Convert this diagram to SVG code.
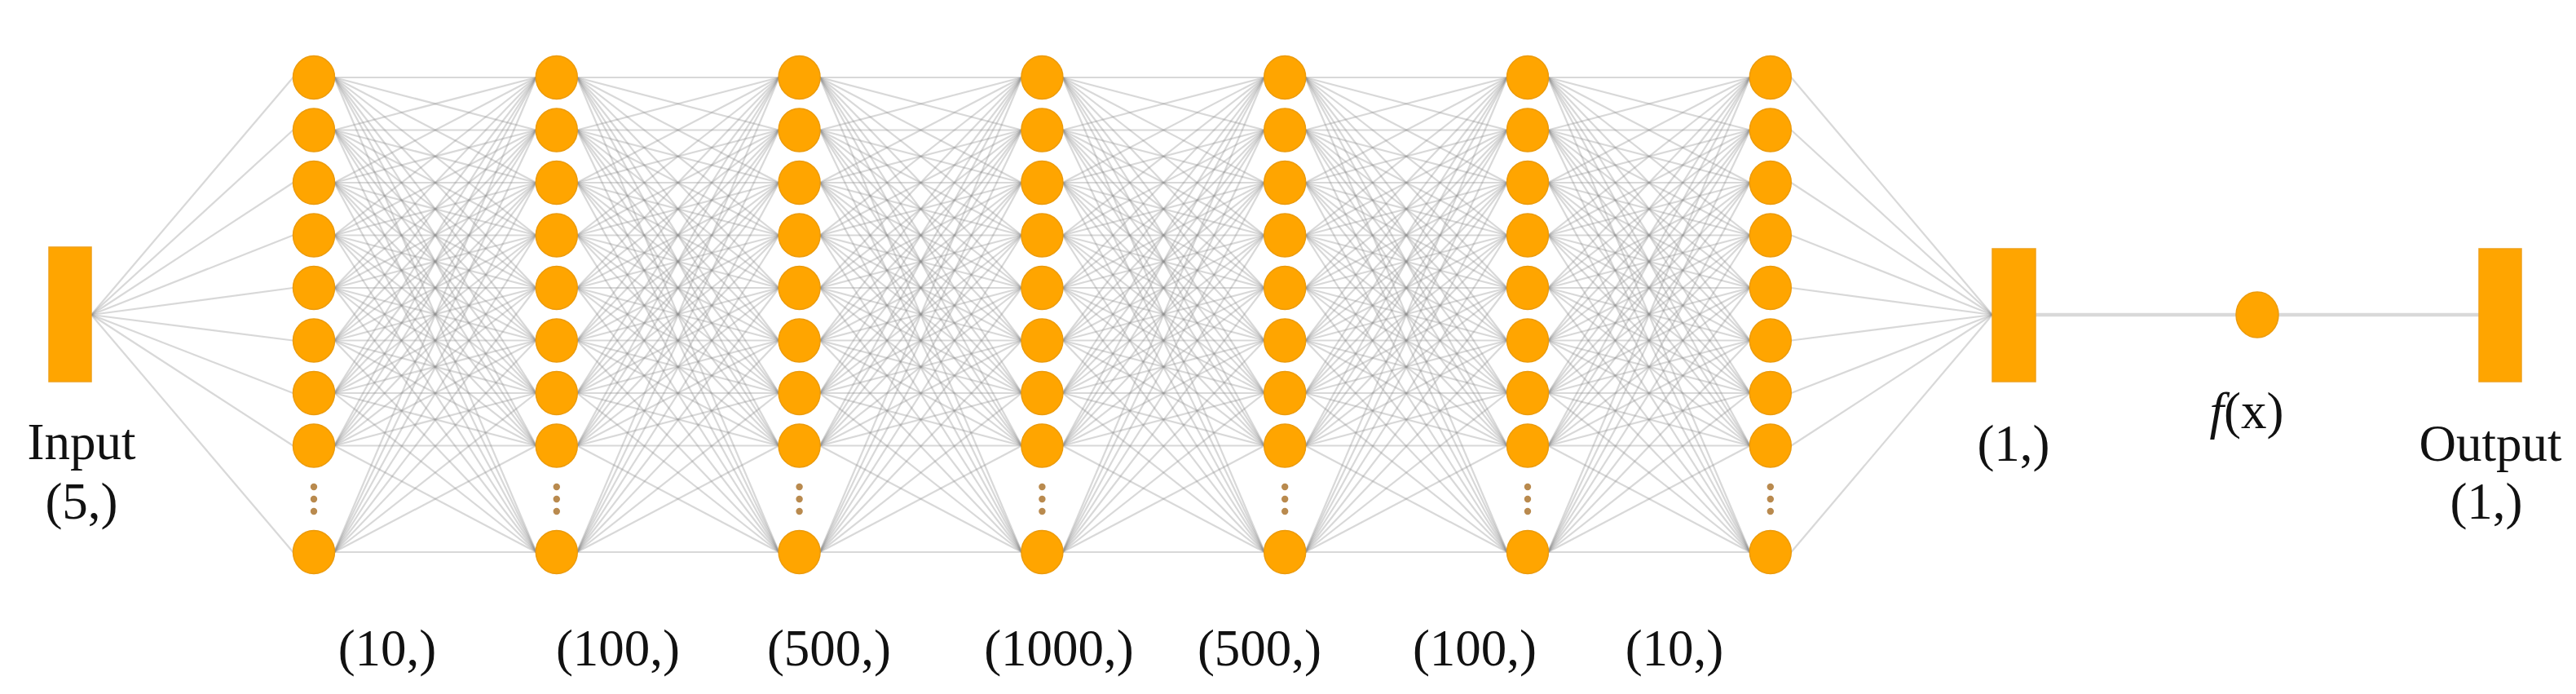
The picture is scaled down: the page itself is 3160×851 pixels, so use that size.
<svg xmlns="http://www.w3.org/2000/svg" xmlns:xlink="http://www.w3.org/1999/xlink" width="3160" height="851" viewBox="0 0 3160 851">
<style>
.n{fill:#ffa500;stroke:#ec9b0c;stroke-width:1.5}
.r{fill:#ffa500;stroke:#f0a018;stroke-width:1.5}
.d{fill:#b98a4e}
.t{font-family:"Liberation Serif","Times New Roman",serif;font-size:63px;fill:#111;text-anchor:middle}
</style>
<defs>
<g id="mesh" stroke="#8c8c8c" stroke-opacity="0.34" stroke-width="2.2">
<line x1="0" y1="95" x2="247.8" y2="95"/><line x1="0" y1="95" x2="247.8" y2="159.5"/><line x1="0" y1="95" x2="247.8" y2="224"/><line x1="0" y1="95" x2="247.8" y2="288.5"/><line x1="0" y1="95" x2="247.8" y2="353"/><line x1="0" y1="95" x2="247.8" y2="417.5"/><line x1="0" y1="95" x2="247.8" y2="482"/><line x1="0" y1="95" x2="247.8" y2="546.5"/><line x1="0" y1="95" x2="247.8" y2="677"/>
<line x1="0" y1="159.5" x2="247.8" y2="95"/><line x1="0" y1="159.5" x2="247.8" y2="159.5"/><line x1="0" y1="159.5" x2="247.8" y2="224"/><line x1="0" y1="159.5" x2="247.8" y2="288.5"/><line x1="0" y1="159.5" x2="247.8" y2="353"/><line x1="0" y1="159.5" x2="247.8" y2="417.5"/><line x1="0" y1="159.5" x2="247.8" y2="482"/><line x1="0" y1="159.5" x2="247.8" y2="546.5"/><line x1="0" y1="159.5" x2="247.8" y2="677"/>
<line x1="0" y1="224" x2="247.8" y2="95"/><line x1="0" y1="224" x2="247.8" y2="159.5"/><line x1="0" y1="224" x2="247.8" y2="224"/><line x1="0" y1="224" x2="247.8" y2="288.5"/><line x1="0" y1="224" x2="247.8" y2="353"/><line x1="0" y1="224" x2="247.8" y2="417.5"/><line x1="0" y1="224" x2="247.8" y2="482"/><line x1="0" y1="224" x2="247.8" y2="546.5"/><line x1="0" y1="224" x2="247.8" y2="677"/>
<line x1="0" y1="288.5" x2="247.8" y2="95"/><line x1="0" y1="288.5" x2="247.8" y2="159.5"/><line x1="0" y1="288.5" x2="247.8" y2="224"/><line x1="0" y1="288.5" x2="247.8" y2="288.5"/><line x1="0" y1="288.5" x2="247.8" y2="353"/><line x1="0" y1="288.5" x2="247.8" y2="417.5"/><line x1="0" y1="288.5" x2="247.8" y2="482"/><line x1="0" y1="288.5" x2="247.8" y2="546.5"/><line x1="0" y1="288.5" x2="247.8" y2="677"/>
<line x1="0" y1="353" x2="247.8" y2="95"/><line x1="0" y1="353" x2="247.8" y2="159.5"/><line x1="0" y1="353" x2="247.8" y2="224"/><line x1="0" y1="353" x2="247.8" y2="288.5"/><line x1="0" y1="353" x2="247.8" y2="353"/><line x1="0" y1="353" x2="247.8" y2="417.5"/><line x1="0" y1="353" x2="247.8" y2="482"/><line x1="0" y1="353" x2="247.8" y2="546.5"/><line x1="0" y1="353" x2="247.8" y2="677"/>
<line x1="0" y1="417.5" x2="247.8" y2="95"/><line x1="0" y1="417.5" x2="247.8" y2="159.5"/><line x1="0" y1="417.5" x2="247.8" y2="224"/><line x1="0" y1="417.5" x2="247.8" y2="288.5"/><line x1="0" y1="417.5" x2="247.8" y2="353"/><line x1="0" y1="417.5" x2="247.8" y2="417.5"/><line x1="0" y1="417.5" x2="247.8" y2="482"/><line x1="0" y1="417.5" x2="247.8" y2="546.5"/><line x1="0" y1="417.5" x2="247.8" y2="677"/>
<line x1="0" y1="482" x2="247.8" y2="95"/><line x1="0" y1="482" x2="247.8" y2="159.5"/><line x1="0" y1="482" x2="247.8" y2="224"/><line x1="0" y1="482" x2="247.8" y2="288.5"/><line x1="0" y1="482" x2="247.8" y2="353"/><line x1="0" y1="482" x2="247.8" y2="417.5"/><line x1="0" y1="482" x2="247.8" y2="482"/><line x1="0" y1="482" x2="247.8" y2="546.5"/><line x1="0" y1="482" x2="247.8" y2="677"/>
<line x1="0" y1="546.5" x2="247.8" y2="95"/><line x1="0" y1="546.5" x2="247.8" y2="159.5"/><line x1="0" y1="546.5" x2="247.8" y2="224"/><line x1="0" y1="546.5" x2="247.8" y2="288.5"/><line x1="0" y1="546.5" x2="247.8" y2="353"/><line x1="0" y1="546.5" x2="247.8" y2="417.5"/><line x1="0" y1="546.5" x2="247.8" y2="482"/><line x1="0" y1="546.5" x2="247.8" y2="546.5"/><line x1="0" y1="546.5" x2="247.8" y2="677"/>
<line x1="0" y1="677" x2="247.8" y2="95"/><line x1="0" y1="677" x2="247.8" y2="159.5"/><line x1="0" y1="677" x2="247.8" y2="224"/><line x1="0" y1="677" x2="247.8" y2="288.5"/><line x1="0" y1="677" x2="247.8" y2="353"/><line x1="0" y1="677" x2="247.8" y2="417.5"/><line x1="0" y1="677" x2="247.8" y2="482"/><line x1="0" y1="677" x2="247.8" y2="546.5"/><line x1="0" y1="677" x2="247.8" y2="677"/>
</g>
<g id="layer">
<ellipse class="n" cx="0" cy="95" rx="25.5" ry="26.5"/>
<ellipse class="n" cx="0" cy="159.5" rx="25.5" ry="26.5"/>
<ellipse class="n" cx="0" cy="224" rx="25.5" ry="26.5"/>
<ellipse class="n" cx="0" cy="288.5" rx="25.5" ry="26.5"/>
<ellipse class="n" cx="0" cy="353" rx="25.5" ry="26.5"/>
<ellipse class="n" cx="0" cy="417.5" rx="25.5" ry="26.5"/>
<ellipse class="n" cx="0" cy="482" rx="25.5" ry="26.5"/>
<ellipse class="n" cx="0" cy="546.5" rx="25.5" ry="26.5"/>
<circle class="d" cx="0" cy="597" r="4.2"/>
<circle class="d" cx="0" cy="612" r="4.2"/>
<circle class="d" cx="0" cy="627" r="4.2"/>
<ellipse class="n" cx="0" cy="677" rx="25.5" ry="26.5"/>
</g>
</defs>
<rect width="3160" height="851" fill="#ffffff"/>
<g id="connectors" stroke="#8c8c8c" stroke-opacity="0.34" stroke-width="2.2">
<line x1="112" y1="386" x2="359.5" y2="95"/><line x1="112" y1="386" x2="359.5" y2="159.5"/><line x1="112" y1="386" x2="359.5" y2="224"/><line x1="112" y1="386" x2="359.5" y2="288.5"/><line x1="112" y1="386" x2="359.5" y2="353"/><line x1="112" y1="386" x2="359.5" y2="417.5"/><line x1="112" y1="386" x2="359.5" y2="482"/><line x1="112" y1="386" x2="359.5" y2="546.5"/><line x1="112" y1="386" x2="359.5" y2="677"/>
<use xlink:href="#mesh" href="#mesh" x="410"/>
<use xlink:href="#mesh" href="#mesh" x="707.8"/>
<use xlink:href="#mesh" href="#mesh" x="1005.6"/>
<use xlink:href="#mesh" href="#mesh" x="1303.4"/>
<use xlink:href="#mesh" href="#mesh" x="1601.2"/>
<use xlink:href="#mesh" href="#mesh" x="1899"/>
<line x1="2197.3" y1="95" x2="2444" y2="386"/><line x1="2197.3" y1="159.5" x2="2444" y2="386"/><line x1="2197.3" y1="224" x2="2444" y2="386"/><line x1="2197.3" y1="288.5" x2="2444" y2="386"/><line x1="2197.3" y1="353" x2="2444" y2="386"/><line x1="2197.3" y1="417.5" x2="2444" y2="386"/><line x1="2197.3" y1="482" x2="2444" y2="386"/><line x1="2197.3" y1="546.5" x2="2444" y2="386"/><line x1="2197.3" y1="677" x2="2444" y2="386"/>
<line x1="2497" y1="386" x2="2743" y2="386" stroke="#d9d9d9" stroke-opacity="1" stroke-width="4.5"/>
<line x1="2795" y1="386" x2="3041" y2="386" stroke="#d9d9d9" stroke-opacity="1" stroke-width="4.5"/>
</g>
<g id="input">
<rect class="r" x="60" y="303" width="52" height="165"/>
<text class="t" x="100" y="563">Input</text>
<text class="t" x="100" y="636">(5,)</text>
</g>
<g id="layer1"><use xlink:href="#layer" href="#layer" x="385"/><text class="t" x="475" y="816">(10,)</text></g>
<g id="layer2"><use xlink:href="#layer" href="#layer" x="682.8"/><text class="t" x="758" y="816">(100,)</text></g>
<g id="layer3"><use xlink:href="#layer" href="#layer" x="980.6"/><text class="t" x="1017" y="816">(500,)</text></g>
<g id="layer4"><use xlink:href="#layer" href="#layer" x="1278.4"/><text class="t" x="1299" y="816">(1000,)</text></g>
<g id="layer5"><use xlink:href="#layer" href="#layer" x="1576.2"/><text class="t" x="1545" y="816">(500,)</text></g>
<g id="layer6"><use xlink:href="#layer" href="#layer" x="1874"/><text class="t" x="1809" y="816">(100,)</text></g>
<g id="layer7"><use xlink:href="#layer" href="#layer" x="2171.8"/><text class="t" x="2054" y="816">(10,)</text></g>
<g id="dense">
<rect class="r" x="2444" y="305" width="53" height="163"/>
<text class="t" x="2470" y="565">(1,)</text>
</g>
<g id="activation">
<ellipse class="n" cx="2769" cy="386" rx="26" ry="28"/>
<text class="t" x="2756" y="525"><tspan font-style="italic">f</tspan>(x)</text>
</g>
<g id="output">
<rect class="r" x="3041" y="305" width="52" height="163"/>
<text class="t" x="3055" y="565">Output</text>
<text class="t" x="3050" y="636">(1,)</text>
</g>
</svg>
